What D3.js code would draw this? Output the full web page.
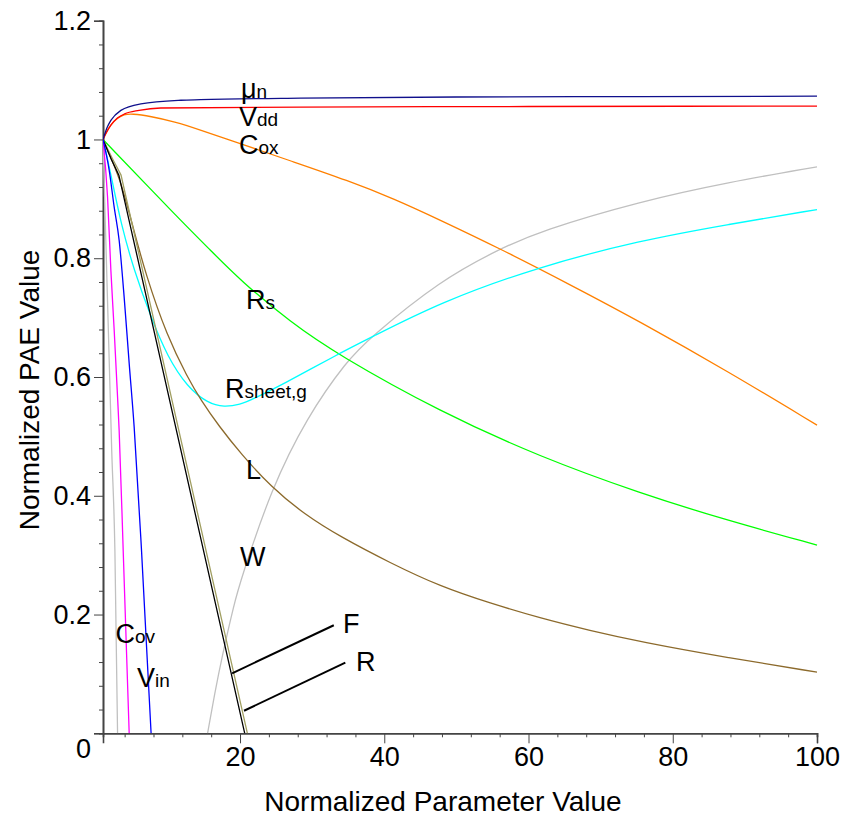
<!DOCTYPE html>
<html>
<head>
<meta charset="utf-8">
<script src="https://cdn.jsdelivr.net/npm/d3@7"></script>
<style>
	body { margin: 0; background: #fff; }
	svg { display: block; font-family: 'Liberation Sans', Arial, sans-serif; }
	.curve { fill: none; stroke-width: 1.3; }
	.axis path, .axis line { stroke: #444; }
	.axis text { font-size: 27px; fill: #000; }
	.lbl { font-size: 27px; }
	.lbl .sub { font-size: 19px; }
</style>
</head>
<body>
<script>
// data: [normalized parameter, normalized PAE]
const muN = [[1,1],[1.6,1.021],[2.09,1.032],[3.48,1.049],[6.25,1.06],[11.8,1.066],[14.5,1.067],[28.4,1.0697],[50,1.0715],[75,1.0722],[100,1.0729]];
const vdd = [[1,1],[1.4,1.01],[2.09,1.024],[3,1.036],[4,1.043],[6,1.049],[9,1.053],[28.4,1.0545],[60,1.0555],[100,1.0562]];
const cox = [[1,1],[1.5,1.013],[2.1,1.025],[3,1.036],[3.9,1.042],[5,1.0435],[7.6,1.039],[10.9,1.03],[14.5,1.016],[20,0.993],[27.5,0.962],[34.9,0.931],[41.4,0.9],[47.8,0.864],[55.9,0.817],[65.7,0.756],[75.5,0.693],[87.7,0.609],[100,0.519]];
const rs = [[1,1],[11.33,0.869],[15.94,0.813],[20.1,0.762],[27.03,0.692],[33.5,0.638],[47.8,0.541],[61.6,0.4655],[75.5,0.404],[87.7,0.358],[100,0.317]];
const rsheet = [[1,1],[2.09,0.942],[3.48,0.858],[5.3,0.78],[7.63,0.701],[9.94,0.634],[12.7,0.583],[15.5,0.556],[17.8,0.549],[20.1,0.554],[21.5,0.561],[26,0.588],[33.5,0.638],[37.9,0.665],[47.8,0.726],[61.2,0.785],[75.5,0.83],[87.7,0.857],[100,0.882]];
const lLen = [[1,1],[2.2,0.966],[3.5,0.928],[5,0.86],[6.9,0.773],[9.94,0.667],[12.7,0.6],[14.56,0.561],[17.1,0.517],[20.1,0.471],[24.3,0.415],[29,0.368],[33.9,0.331],[40.8,0.287],[47.8,0.247],[54.7,0.219],[61.6,0.194],[68.5,0.173],[75.5,0.154],[87.7,0.127],[100,0.103]];
const wLeft = [[1,1],[1.3,0.87],[1.6,0.74],[1.9,0.61],[2.2,0.48],[2.65,0.308],[3.02,0]];
const wRight = [[15.5,0],[16.5,0.068],[17.5,0.129],[19.2,0.219],[20.1,0.258],[24.3,0.411],[29.3,0.533],[34.8,0.627],[37.9,0.665],[47.8,0.763],[55.9,0.815],[61.6,0.846],[75.5,0.896],[87.7,0.928],[100,0.954]];
const cov = [[1,1],[1.63,0.903],[2.09,0.78],[2.55,0.679],[3.02,0.566],[3.24,0.51],[3.8,0.308],[4.63,0]];
const vin = [[1,1],[1.86,0.948],[2.55,0.886],[3.24,0.83],[3.93,0.735],[4.63,0.623],[5.32,0.516],[6.34,0.308],[7.67,0]];
const fFreq = [[1,1],[2.1,0.968],[3.2,0.94],[20.65,0]];
const rLoad = [[1,1],[2.3,0.968],[3.5,0.94],[21.02,0]];

const xMajor = [20, 40, 60, 80, 100];
const xMinor = d3.range(4, 100, 4).filter(d => d % 20 !== 0);
const yMajor = [0, 0.2, 0.4, 0.6, 0.8, 1, 1.2];
const yMinor = d3.range(0.04, 1.2, 0.04).filter(d => Math.abs(d * 5 - Math.round(d * 5)) > 1e-6);

// curve: 'basis' for the slow curves, 'mono' for the steep ones near the axis
const series = [
	{ data: wLeft, color: '#c0c0c0', curve: 'mono' },
	{ data: wRight, color: '#c0c0c0', curve: 'basis' },
	{ data: rs, color: '#00ff00', curve: 'basis' },
	{ data: cox, color: '#ff8000', curve: 'basis' },
	{ data: rsheet, color: '#00ffff', curve: 'basis' },
	{ data: lLen, color: '#8c6a2c', curve: 'basis' },
	{ data: rLoad, color: '#a19f62', curve: 'linear' },
	{ data: fFreq, color: '#000000', curve: 'linear' },
	{ data: cov, color: '#ff00ff', curve: 'mono' },
	{ data: vin, color: '#0000ff', curve: 'mono' },
	{ data: vdd, color: '#ff0000', curve: 'mono' },
	{ data: muN, color: '#10108c', curve: 'mono' },
];

// [main, subscript, x, baseline]
const labels = [
	['\u03bc', 'n', 241, 97.5],
	['V', 'dd', 239, 125.5],
	['C', 'ox', 239, 154],
	['R', 's', 246, 309],
	['R', 'sheet,g', 225, 398],
	['L', '', 246, 479],
	['W', '', 240, 566],
	['C', 'ov', 115.5, 643],
	['V', 'in', 137, 686.5],
	['F', '', 343, 633],
	['R', '', 356, 671],
];
// leader lines: [x0, y0, x1, y1] in data units
const leaders = [
	[18.9, 0.101, 33.0, 0.182],
	[20.55, 0.038, 34.6, 0.119],
];

const width = 842, height = 822;
const svg = d3.select('body').append('svg')
	.attr('width', width)
	.attr('height', height);

const x = d3.scaleLinear().domain([1, 100]).range([103, 817]);
const y = d3.scaleLinear().domain([0, 1.2]).range([733.3, 20.7]);

svg.append('clipPath').attr('id', 'plot')
	.append('rect')
	.attr('x', x(1)).attr('y', y(1.2) - 2)
	.attr('width', x(100) - x(1) + 2).attr('height', y(0) - y(1.2) + 2);

// axes
const gx = svg.append('g').attr('class', 'axis')
	.attr('transform', `translate(0,${y(0)})`);
gx.call(d3.axisBottom(x).tickValues(xMinor).tickSize(4).tickFormat(''));
gx.append('g').call(d3.axisBottom(x).tickValues(xMajor).tickSize(10).tickPadding(4).tickFormat(d3.format('d')));
gx.selectAll('path.domain').attr('stroke-width', 1.6);

const gy = svg.append('g').attr('class', 'axis')
	.attr('transform', `translate(${x(1)},0)`);
gy.call(d3.axisLeft(y).tickValues(yMinor).tickSize(4).tickFormat(''));
gy.append('g').call(d3.axisLeft(y).tickValues(yMajor).tickSize(9).tickPadding(3).tickFormat(d => String(+d.toFixed(1))));
gy.selectAll('path.domain').attr('stroke-width', 1.6);
gy.selectAll('.tick text').filter(d => d === 0).attr('dy', '0.9em');

const curves = { basis: d3.curveBasis, mono: d3.curveMonotoneX, linear: d3.curveLinear };
const line = d3.line().x(d => x(d[0])).y(d => y(d[1]));

svg.append('g').attr('clip-path', 'url(#plot)')
	.selectAll('path')
	.data(series)
	.join('path')
	.attr('class', 'curve')
	.attr('stroke', d => d.color)
	.attr('d', d => line.curve(curves[d.curve])(d.data));

svg.append('g').selectAll('line')
	.data(leaders)
	.join('line')
	.attr('x1', d => x(d[0])).attr('y1', d => y(d[1]))
	.attr('x2', d => x(d[2])).attr('y2', d => y(d[3]))
	.attr('stroke', '#000')
	.attr('stroke-width', 2);

const lbl = svg.append('g').selectAll('text')
	.data(labels)
	.join('text')
	.attr('class', 'lbl')
	.attr('x', d => d[2])
	.attr('y', d => d[3]);
lbl.append('tspan').text(d => d[0]);
lbl.append('tspan').attr('class', 'sub').text(d => d[1]);

// titles
svg.append('text')
	.attr('x', 443).attr('y', 811)
	.attr('text-anchor', 'middle')
	.style('font-size', '28px')
	.text('Normalized Parameter Value');
svg.append('text')
	.attr('transform', 'translate(39,390)rotate(-90)')
	.attr('text-anchor', 'middle')
	.style('font-size', '28px')
	.text('Normalized PAE Value');
</script>
</body>
</html>
